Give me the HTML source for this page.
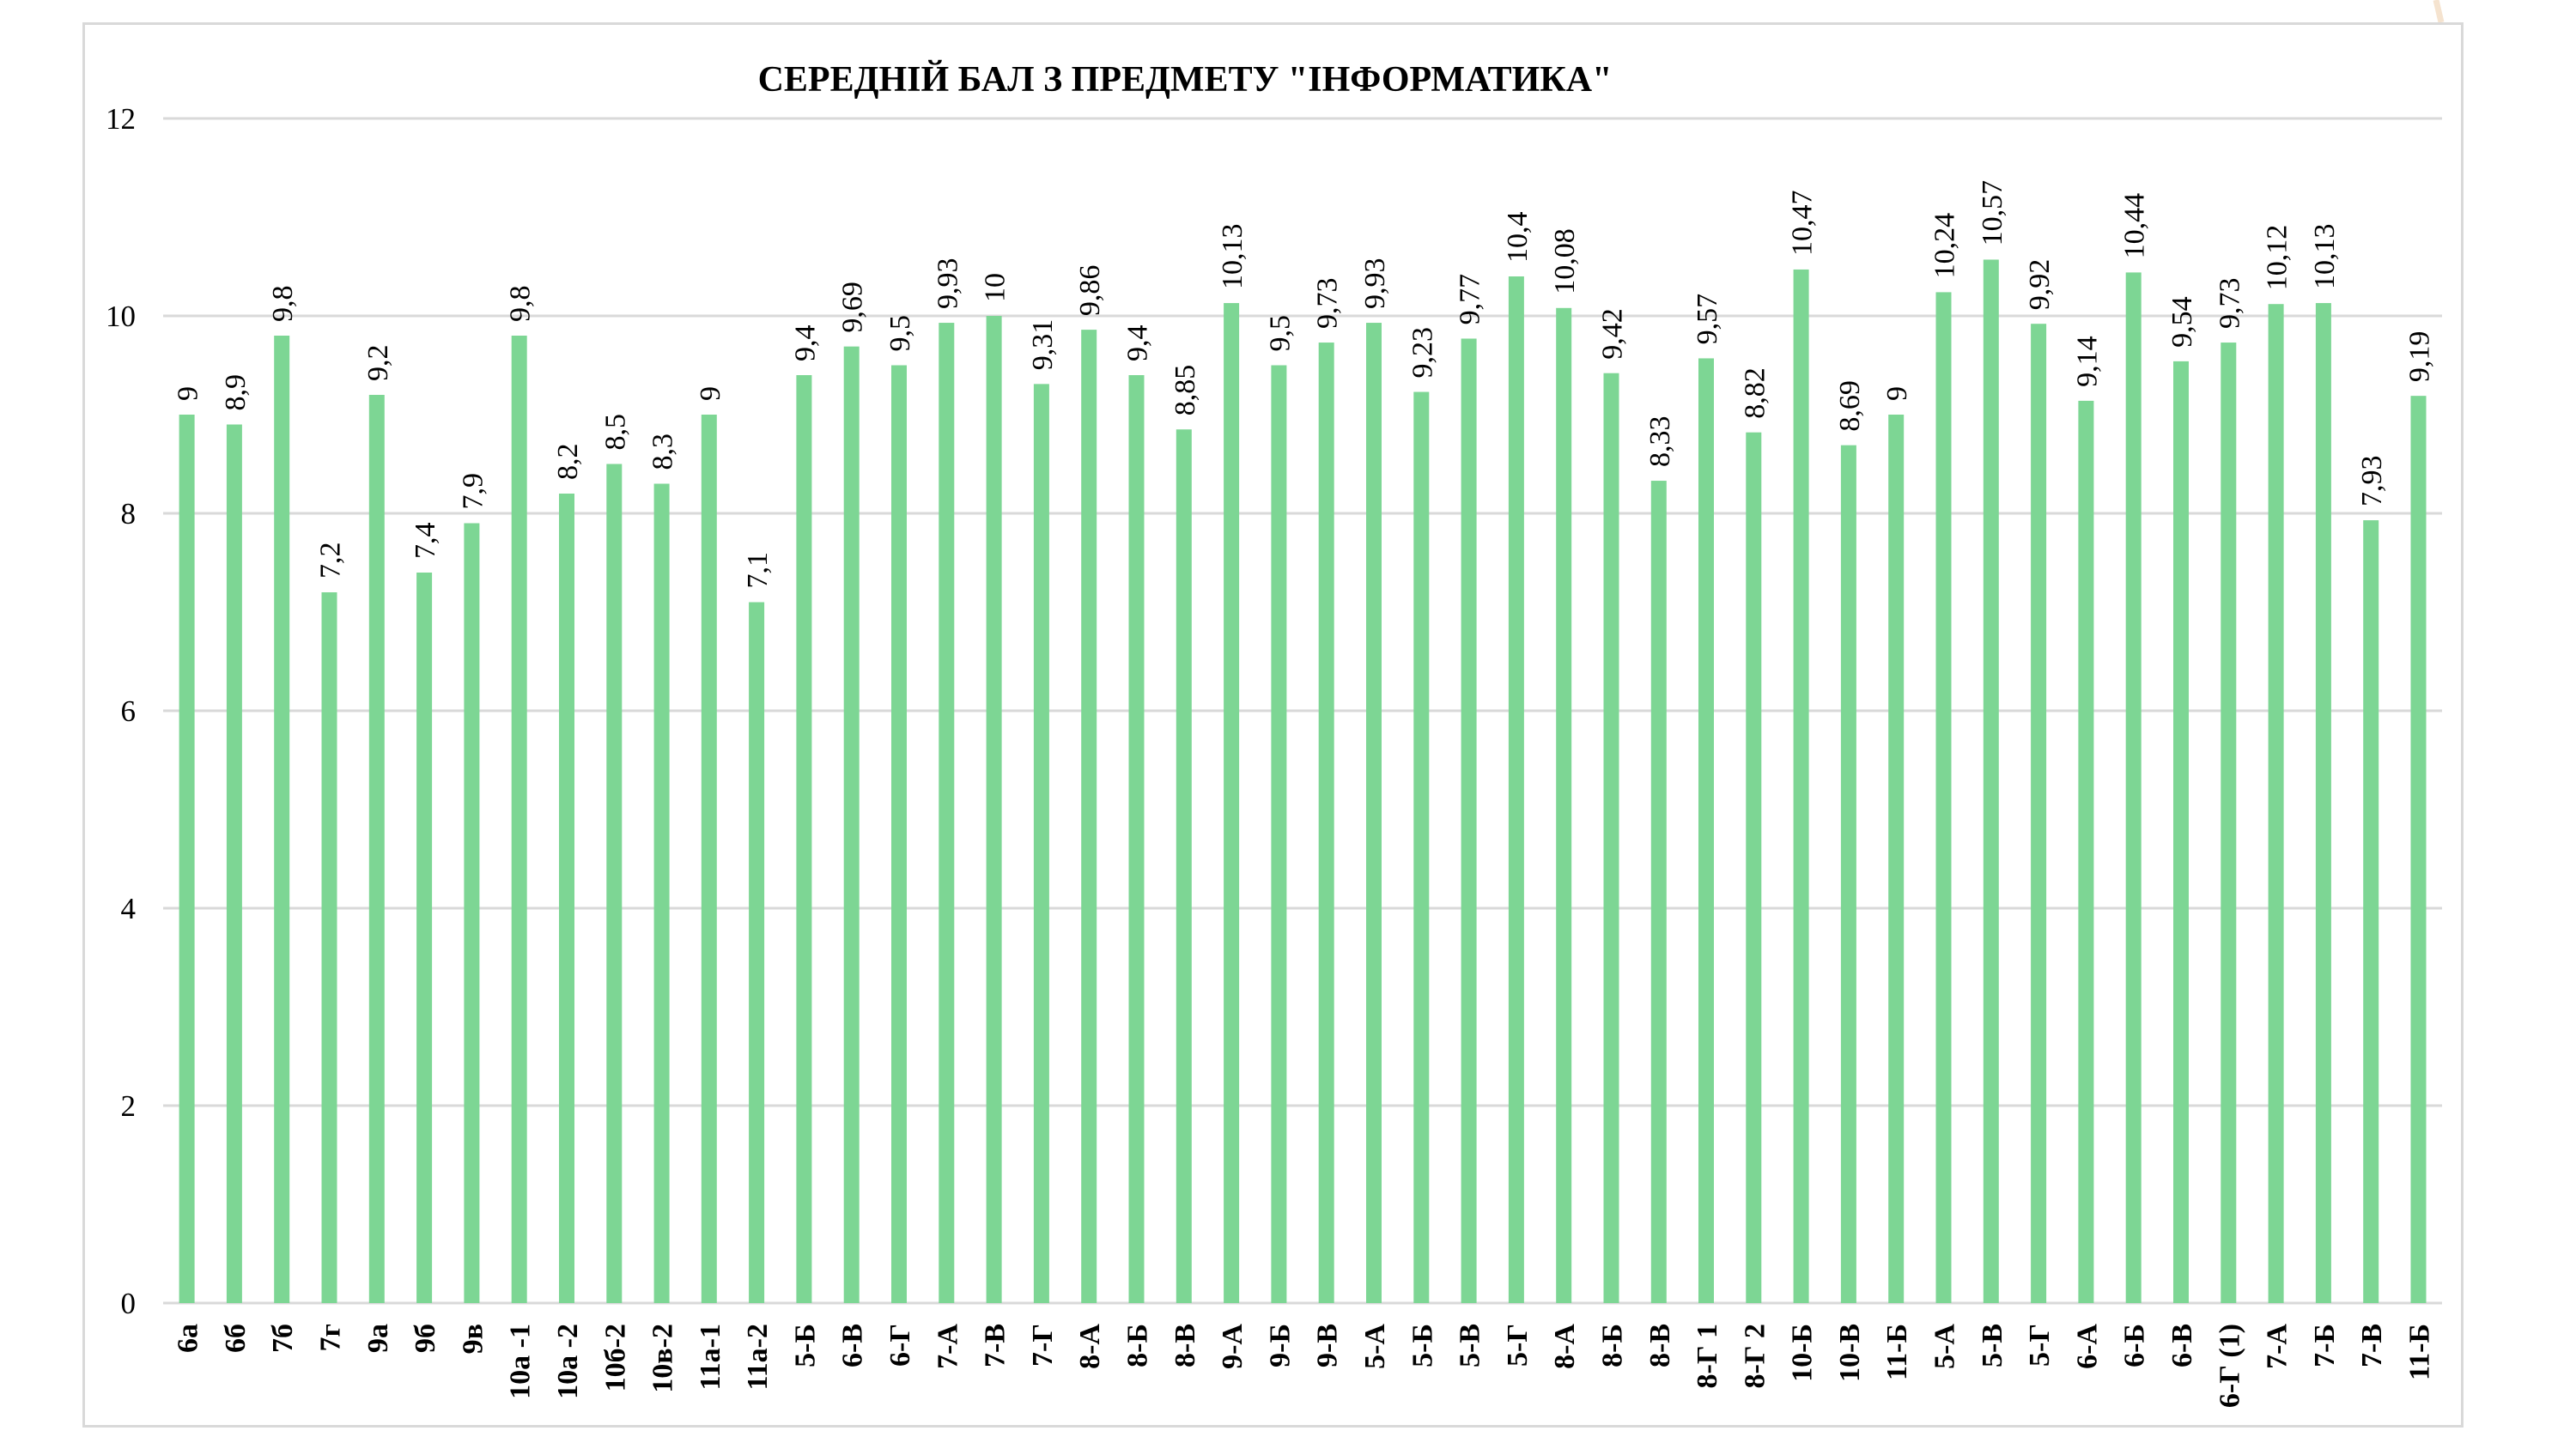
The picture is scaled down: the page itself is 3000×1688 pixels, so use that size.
<!DOCTYPE html>
<html><head><meta charset="utf-8"><style>html,body{margin:0;padding:0;background:#fff}svg{display:block}</style></head>
<body>
<svg width="3000" height="1688" viewBox="0 0 3000 1688" xmlns="http://www.w3.org/2000/svg">
<rect width="3000" height="1688" fill="#fff"/>
<line x1="2837" y1="0" x2="2843" y2="26" stroke="#f5e3cf" stroke-width="7"/>
<rect x="97.5" y="27.5" width="2770" height="1634" fill="#fff" stroke="#d9d9d9" stroke-width="3"/>
<text x="1380" y="106" text-anchor="middle" font-family="Liberation Serif, Noto Serif CJK SC, serif" font-weight="bold" font-size="42">СЕРЕДНІЙ БАЛ З ПРЕДМЕТУ "ІНФОРМАТИКА"</text>
<g stroke="#d9d9d9" stroke-width="3">
<line x1="190" y1="138" x2="2844" y2="138"/><line x1="190" y1="368" x2="2844" y2="368"/><line x1="190" y1="598" x2="2844" y2="598"/><line x1="190" y1="828" x2="2844" y2="828"/><line x1="190" y1="1058" x2="2844" y2="1058"/><line x1="190" y1="1288" x2="2844" y2="1288"/><line x1="190" y1="1518" x2="2844" y2="1518"/>
</g>
<g font-family="Liberation Serif, serif" font-size="35" text-anchor="end" fill="#000">
<text x="158" y="150">12</text><text x="158" y="380">10</text><text x="158" y="610">8</text><text x="158" y="840">6</text><text x="158" y="1070">4</text><text x="158" y="1300">2</text><text x="158" y="1530">0</text>
</g>
<g fill="#7dd694" transform="translate(0,1518) scale(1,-115)">
<rect x="208.6" y="0" width="18" height="9"/><rect x="263.9" y="0" width="18" height="8.9"/><rect x="319.2" y="0" width="18" height="9.8"/><rect x="374.5" y="0" width="18" height="7.2"/><rect x="429.8" y="0" width="18" height="9.2"/><rect x="485.1" y="0" width="18" height="7.4"/><rect x="540.4" y="0" width="18" height="7.9"/><rect x="595.7" y="0" width="18" height="9.8"/><rect x="651" y="0" width="18" height="8.2"/><rect x="706.3" y="0" width="18" height="8.5"/><rect x="761.6" y="0" width="18" height="8.3"/><rect x="816.8" y="0" width="18" height="9"/><rect x="872.1" y="0" width="18" height="7.1"/><rect x="927.4" y="0" width="18" height="9.4"/><rect x="982.7" y="0" width="18" height="9.69"/><rect x="1038" y="0" width="18" height="9.5"/><rect x="1093.3" y="0" width="18" height="9.93"/><rect x="1148.6" y="0" width="18" height="10"/><rect x="1203.9" y="0" width="18" height="9.31"/><rect x="1259.2" y="0" width="18" height="9.86"/><rect x="1314.5" y="0" width="18" height="9.4"/><rect x="1369.8" y="0" width="18" height="8.85"/><rect x="1425.1" y="0" width="18" height="10.13"/><rect x="1480.4" y="0" width="18" height="9.5"/><rect x="1535.7" y="0" width="18" height="9.73"/><rect x="1591" y="0" width="18" height="9.93"/><rect x="1646.3" y="0" width="18" height="9.23"/><rect x="1701.6" y="0" width="18" height="9.77"/><rect x="1756.9" y="0" width="18" height="10.4"/><rect x="1812.2" y="0" width="18" height="10.08"/><rect x="1867.5" y="0" width="18" height="9.42"/><rect x="1922.8" y="0" width="18" height="8.33"/><rect x="1978" y="0" width="18" height="9.57"/><rect x="2033.3" y="0" width="18" height="8.82"/><rect x="2088.6" y="0" width="18" height="10.47"/><rect x="2143.9" y="0" width="18" height="8.69"/><rect x="2199.2" y="0" width="18" height="9"/><rect x="2254.5" y="0" width="18" height="10.24"/><rect x="2309.8" y="0" width="18" height="10.57"/><rect x="2365.1" y="0" width="18" height="9.92"/><rect x="2420.4" y="0" width="18" height="9.14"/><rect x="2475.7" y="0" width="18" height="10.44"/><rect x="2531" y="0" width="18" height="9.54"/><rect x="2586.3" y="0" width="18" height="9.73"/><rect x="2641.6" y="0" width="18" height="10.12"/><rect x="2696.9" y="0" width="18" height="10.13"/><rect x="2752.2" y="0" width="18" height="7.93"/><rect x="2807.5" y="0" width="18" height="9.19"/>
</g>
<g font-family="Liberation Serif, serif" font-size="34" fill="#000">
<text transform="translate(229.6,467) rotate(-90)">9</text>
<text transform="translate(284.9,478.5) rotate(-90)">8,9</text>
<text transform="translate(340.2,375) rotate(-90)">9,8</text>
<text transform="translate(395.5,674) rotate(-90)">7,2</text>
<text transform="translate(450.8,444) rotate(-90)">9,2</text>
<text transform="translate(506.1,651) rotate(-90)">7,4</text>
<text transform="translate(561.4,593.5) rotate(-90)">7,9</text>
<text transform="translate(616.7,375) rotate(-90)">9,8</text>
<text transform="translate(672,559) rotate(-90)">8,2</text>
<text transform="translate(727.3,524.5) rotate(-90)">8,5</text>
<text transform="translate(782.6,547.5) rotate(-90)">8,3</text>
<text transform="translate(837.8,467) rotate(-90)">9</text>
<text transform="translate(893.1,685.5) rotate(-90)">7,1</text>
<text transform="translate(948.4,421) rotate(-90)">9,4</text>
<text transform="translate(1003.7,387.6) rotate(-90)">9,69</text>
<text transform="translate(1059,409.5) rotate(-90)">9,5</text>
<text transform="translate(1114.3,360) rotate(-90)">9,93</text>
<text transform="translate(1169.6,352) rotate(-90)">10</text>
<text transform="translate(1224.9,431.3) rotate(-90)">9,31</text>
<text transform="translate(1280.2,368.1) rotate(-90)">9,86</text>
<text transform="translate(1335.5,421) rotate(-90)">9,4</text>
<text transform="translate(1390.8,484.2) rotate(-90)">8,85</text>
<text transform="translate(1446.1,337) rotate(-90)">10,13</text>
<text transform="translate(1501.4,409.5) rotate(-90)">9,5</text>
<text transform="translate(1556.7,383) rotate(-90)">9,73</text>
<text transform="translate(1612,360) rotate(-90)">9,93</text>
<text transform="translate(1667.3,440.5) rotate(-90)">9,23</text>
<text transform="translate(1722.6,378.4) rotate(-90)">9,77</text>
<text transform="translate(1777.9,306) rotate(-90)">10,4</text>
<text transform="translate(1833.2,342.8) rotate(-90)">10,08</text>
<text transform="translate(1888.5,418.7) rotate(-90)">9,42</text>
<text transform="translate(1943.8,544) rotate(-90)">8,33</text>
<text transform="translate(1999,401.4) rotate(-90)">9,57</text>
<text transform="translate(2054.3,487.7) rotate(-90)">8,82</text>
<text transform="translate(2109.6,298) rotate(-90)">10,47</text>
<text transform="translate(2164.9,502.6) rotate(-90)">8,69</text>
<text transform="translate(2220.2,467) rotate(-90)">9</text>
<text transform="translate(2275.5,324.4) rotate(-90)">10,24</text>
<text transform="translate(2330.8,286.4) rotate(-90)">10,57</text>
<text transform="translate(2386.1,361.2) rotate(-90)">9,92</text>
<text transform="translate(2441.4,450.9) rotate(-90)">9,14</text>
<text transform="translate(2496.7,301.4) rotate(-90)">10,44</text>
<text transform="translate(2552,404.9) rotate(-90)">9,54</text>
<text transform="translate(2607.3,383) rotate(-90)">9,73</text>
<text transform="translate(2662.6,338.2) rotate(-90)">10,12</text>
<text transform="translate(2717.9,337) rotate(-90)">10,13</text>
<text transform="translate(2773.2,590) rotate(-90)">7,93</text>
<text transform="translate(2828.5,445.1) rotate(-90)">9,19</text>
</g>
<g font-family="Liberation Serif, serif" font-size="34" font-weight="bold" fill="#000" text-anchor="end">
<text transform="translate(229.6,1542) rotate(-90)">6а</text>
<text transform="translate(284.9,1542) rotate(-90)">6б</text>
<text transform="translate(340.2,1542) rotate(-90)">7б</text>
<text transform="translate(395.5,1542) rotate(-90)">7г</text>
<text transform="translate(450.8,1542) rotate(-90)">9а</text>
<text transform="translate(506.1,1542) rotate(-90)">9б</text>
<text transform="translate(561.4,1542) rotate(-90)">9в</text>
<text transform="translate(616.7,1542) rotate(-90)">10а -1</text>
<text transform="translate(672,1542) rotate(-90)">10а -2</text>
<text transform="translate(727.3,1542) rotate(-90)">10б-2</text>
<text transform="translate(782.6,1542) rotate(-90)">10в-2</text>
<text transform="translate(837.8,1542) rotate(-90)">11а-1</text>
<text transform="translate(893.1,1542) rotate(-90)">11а-2</text>
<text transform="translate(948.4,1542) rotate(-90)">5-Б</text>
<text transform="translate(1003.7,1542) rotate(-90)">6-В</text>
<text transform="translate(1059,1542) rotate(-90)">6-Г</text>
<text transform="translate(1114.3,1542) rotate(-90)">7-А</text>
<text transform="translate(1169.6,1542) rotate(-90)">7-В</text>
<text transform="translate(1224.9,1542) rotate(-90)">7-Г</text>
<text transform="translate(1280.2,1542) rotate(-90)">8-А</text>
<text transform="translate(1335.5,1542) rotate(-90)">8-Б</text>
<text transform="translate(1390.8,1542) rotate(-90)">8-В</text>
<text transform="translate(1446.1,1542) rotate(-90)">9-А</text>
<text transform="translate(1501.4,1542) rotate(-90)">9-Б</text>
<text transform="translate(1556.7,1542) rotate(-90)">9-В</text>
<text transform="translate(1612,1542) rotate(-90)">5-А</text>
<text transform="translate(1667.3,1542) rotate(-90)">5-Б</text>
<text transform="translate(1722.6,1542) rotate(-90)">5-В</text>
<text transform="translate(1777.9,1542) rotate(-90)">5-Г</text>
<text transform="translate(1833.2,1542) rotate(-90)">8-А</text>
<text transform="translate(1888.5,1542) rotate(-90)">8-Б</text>
<text transform="translate(1943.8,1542) rotate(-90)">8-В</text>
<text transform="translate(1999,1542) rotate(-90)">8-Г 1</text>
<text transform="translate(2054.3,1542) rotate(-90)">8-Г 2</text>
<text transform="translate(2109.6,1542) rotate(-90)">10-Б</text>
<text transform="translate(2164.9,1542) rotate(-90)">10-В</text>
<text transform="translate(2220.2,1542) rotate(-90)">11-Б</text>
<text transform="translate(2275.5,1542) rotate(-90)">5-А</text>
<text transform="translate(2330.8,1542) rotate(-90)">5-В</text>
<text transform="translate(2386.1,1542) rotate(-90)">5-Г</text>
<text transform="translate(2441.4,1542) rotate(-90)">6-А</text>
<text transform="translate(2496.7,1542) rotate(-90)">6-Б</text>
<text transform="translate(2552,1542) rotate(-90)">6-В</text>
<text transform="translate(2607.3,1542) rotate(-90)">6-Г (1)</text>
<text transform="translate(2662.6,1542) rotate(-90)">7-А</text>
<text transform="translate(2717.9,1542) rotate(-90)">7-Б</text>
<text transform="translate(2773.2,1542) rotate(-90)">7-В</text>
<text transform="translate(2828.5,1542) rotate(-90)">11-Б</text>
</g>
</svg>
</body></html>
